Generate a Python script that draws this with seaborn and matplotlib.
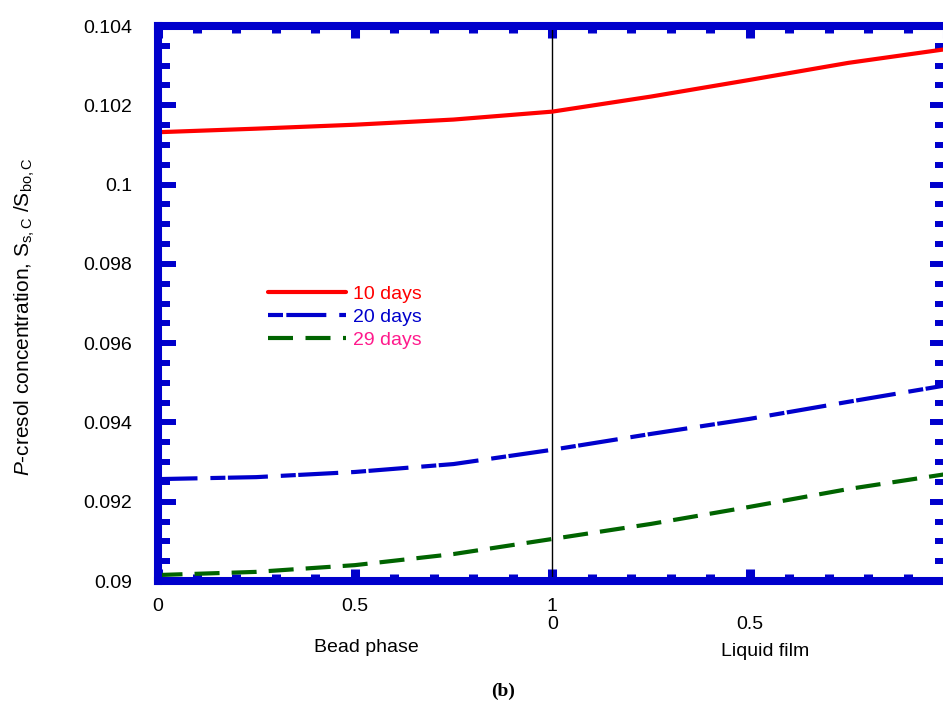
import matplotlib
matplotlib.use("Agg")
import matplotlib.pyplot as plt
import seaborn as sns
import numpy as np
import pandas as pd
from matplotlib.lines import Line2D

# ---- data ----
x_pos = [0.0, 0.25, 0.5, 0.75, 1.0, 1.25, 1.5, 1.75, 2.0]
days10 = [0.10132, 0.10141, 0.10151, 0.10164, 0.10184, 0.10222, 0.10264, 0.10307, 0.10342]
days20 = [0.09257, 0.09262, 0.09275, 0.09295, 0.09331, 0.09371, 0.09409, 0.09452, 0.09494]
days29 = [0.09015, 0.09023, 0.09040, 0.09068, 0.09106, 0.09144, 0.09187, 0.09232, 0.09270]
series_labels = ["10 days", "20 days", "29 days"]
xtick_vals = [0, 0.5, 1, 1.5, 2]
xtick_labels = ["0", "0.5", "1\n0", "\n0.5", "\n1"]
ytick_vals = [0.09, 0.092, 0.094, 0.096, 0.098, 0.1, 0.102, 0.104]
ytick_labels = ["0.09", "0.092", "0.094", "0.096", "0.098", "0.1", "0.102", "0.104"]

sns.set_theme(style="white")
plt.rcParams['font.family'] = ['Liberation Sans', 'DejaVu Sans']
plt.rcParams['text.color'] = 'black'
plt.rcParams['mathtext.fontset'] = 'custom'
plt.rcParams['mathtext.rm'] = 'Liberation Sans'
plt.rcParams['mathtext.it'] = 'Liberation Sans:italic'

BLUE = "#0000cc"
RED = "#ff0000"
GREEN = "#006400"
PINK = "#ff1a8c"
FS = 14

fig = plt.figure(figsize=(9.43, 7.02), dpi=100)
ax = fig.add_axes([157.5 / 943, 1 - 581 / 702, 789.5 / 943, 555 / 702])

df = pd.DataFrame({"x": x_pos, "d10": days10, "d20": days20, "d29": days29})

sns.lineplot(data=df, x="x", y="d10", ax=ax, color=RED, lw=3.0,
             linestyle="-", label=series_labels[0])
sns.lineplot(data=df, x="x", y="d20", ax=ax, color=BLUE, lw=3.0,
             linestyle=(0, (9.6, 3.1, 3.6, 0.6)), label=series_labels[1])
sns.lineplot(data=df, x="x", y="d29", ax=ax, color=GREEN, lw=3.0,
             linestyle=(0, (6.0, 2.9)), label=series_labels[2])

ax.axvline(1, color="black", lw=1.0, zorder=1)

ax.set_xlim(0, 2)
ax.set_ylim(0.09, 0.104)
ax.set_xticks(xtick_vals)
ax.set_xticklabels(xtick_labels, fontsize=FS, linespacing=1.1)
ax.set_xticks(np.arange(0, 2.0001, 0.1), minor=True)
ax.set_yticks(ytick_vals)
ax.set_yticklabels(ytick_labels, fontsize=FS)
ax.set_yticks(np.arange(0.09, 0.10401, 0.0005), minor=True)
ax.set_xlabel("")
ax.set_ylabel("")

for s in ax.spines.values():
    s.set_color(BLUE)
    s.set_linewidth(5.8)
    s.set_visible(True)

ax.tick_params(axis="x", which="major", direction="in", top=True, bottom=True,
               length=8.6, width=6.5, color=BLUE, pad=12, labelcolor="black")
ax.tick_params(axis="x", which="minor", direction="in", top=True, bottom=True,
               length=5, width=6.5, color=BLUE)
ax.tick_params(axis="y", which="major", direction="in", left=True, right=True,
               length=12.6, width=4.3, color=BLUE, pad=18, labelcolor="black")
ax.tick_params(axis="y", which="minor", direction="in", left=True, right=True,
               length=8.3, width=4.3, color=BLUE)

# legend
handles = [Line2D([], [], color=RED, lw=3.0, linestyle="-"),
           Line2D([], [], color=BLUE, lw=3.0, linestyle=(0, (3.6, 0.8, 9.6, 3.1))),
           Line2D([], [], color=GREEN, lw=3.0, linestyle=(0, (6.0, 3.0)))]
leg = ax.legend(handles, series_labels, loc="upper left",
                bbox_to_anchor=(0.14, 0.533), frameon=False, fontsize=FS,
                handlelength=4.0, handletextpad=0.36, labelspacing=0.27,
                borderpad=0, borderaxespad=0)
for t, c in zip(leg.get_texts(), [RED, BLUE, PINK]):
    t.set_color(c)

fig.text(25 / 943, 1 - 317 / 702,
         r"$\mathit{P}$-cresol concentration, S$_{\rm s,C}$ /S$_{\rm bo,C}$",
         rotation=90, ha="center", va="center", fontsize=15, color="black")
fig.text(366 / 943, 1 - 648 / 702, "Bead phase", ha="center", va="center",
         fontsize=FS, color="black")
fig.text(765 / 943, 1 - 652 / 702, "Liquid film", ha="center", va="center",
         fontsize=FS, color="black")
fig.text(503 / 943, 1 - 691 / 702, "(b)", ha="center", va="center", fontsize=14,
         fontweight="bold", color="black", family=["Liberation Serif", "DejaVu Serif"])

fig.savefig("out.png", dpi=100)
